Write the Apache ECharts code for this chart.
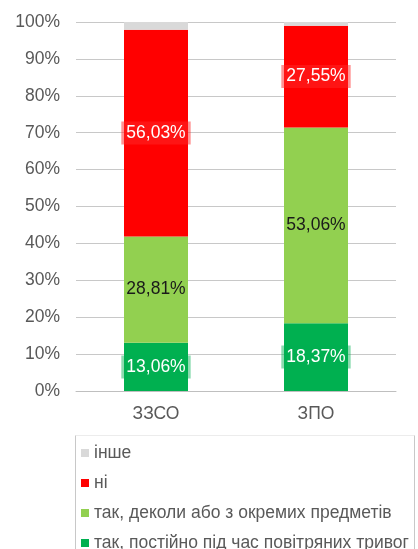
<!DOCTYPE html>
<html>
<head>
<meta charset="utf-8">
<script src="https://cdn.jsdelivr.net/npm/echarts@6/dist/echarts.min.js"></script>
<style>
  html, body { margin: 0; padding: 0; background: #fff; overflow: hidden; }
  #chart { width: 418px; height: 549px; }
</style>
</head>
<body>
<div id="chart"></div>
<script>
var categories = ['ЗЗСО', 'ЗПО'];
var constantly = [13.06, 18.37];
var sometimes = [28.81, 53.06];
var no = [56.03, 27.55];
var other = [2.10, 1.02];
var yTicks = [0, 10, 20, 30, 40, 50, 60, 70, 80, 90, 100];

var names = ['так, постійно під час повітряних тривог', 'так, деколи або з окремих предметів', 'ні', 'інше'];
var legendOrder = ['інше', 'ні', 'так, деколи або з окремих предметів', 'так, постійно під час повітряних тривог'];

function fmt(v) {
  return v.toFixed(2).replace('.', ',') + '%';
}

var FONT = 'Liberation Sans';
var myChart = echarts.init(document.getElementById('chart'));

function barSeries(name, data, color, label) {
  return {
    name: name,
    type: 'bar',
    stack: 'total',
    barWidth: '40%',
    data: data,
    itemStyle: { color: color },
    label: label,
    emphasis: { disabled: true }
  };
}

// one legend per row so the list is not wrapped into columns
var legends = legendOrder.map(function (n, i) {
  return {
    data: [n],
    orient: 'vertical',
    left: 81,
    top: 444 + i * 30,
    padding: 0,
    itemWidth: 8,
    itemHeight: 8,
    icon: 'rect',
    selectedMode: false,
    textStyle: { color: '#595959', fontSize: 17.5, fontFamily: FONT }
  };
});

var option = {
  animation: false,
  grid: { left: 76, right: 22, top: 22, bottom: 158 },
  xAxis: {
    type: 'category',
    data: categories,
    axisTick: { show: false },
    axisLine: { lineStyle: { color: '#bfbfbf' } },
    axisLabel: { color: '#595959', fontSize: 17.5, fontFamily: FONT, margin: 14 }
  },
  yAxis: {
    type: 'value',
    min: 0,
    max: 100,
    interval: 10,
    axisLabel: {
      color: '#595959', fontSize: 17.5, fontFamily: FONT, margin: 16,
      formatter: function (v) { return yTicks.indexOf(v) >= 0 ? v + '%' : ''; }
    },
    splitLine: { lineStyle: { color: '#c8c8c8', width: 1 } }
  },
  legend: legends,
  graphic: [
    { type: 'line', shape: { x1: 75.5, y1: 435.5, x2: 414.5, y2: 435.5 }, style: { stroke: '#ececec', lineWidth: 1 }, silent: true },
    { type: 'line', shape: { x1: 75.5, y1: 435.5, x2: 75.5, y2: 560 }, style: { stroke: '#c8c8c8', lineWidth: 1 }, silent: true },
    { type: 'line', shape: { x1: 414.5, y1: 435.5, x2: 414.5, y2: 560 }, style: { stroke: '#c8c8c8', lineWidth: 1 }, silent: true }
  ],
  series: [
    barSeries(names[0], constantly, '#00b050', {
      show: true, position: 'inside', color: '#fff', fontSize: 17.5, fontFamily: FONT,
      backgroundColor: 'rgba(0,176,80,0.45)', padding: [3, 5, 2, 5],
      formatter: function (p) { return fmt(p.value); }
    }),
    barSeries(names[1], sometimes, '#92d050', {
      show: true, position: 'inside', color: '#1a1a1a', fontSize: 17.5, fontFamily: FONT,
      formatter: function (p) { return fmt(p.value); }
    }),
    barSeries(names[2], no, '#ff0000', {
      show: true, position: 'inside', color: '#fff', fontSize: 17.5, fontFamily: FONT,
      backgroundColor: 'rgba(255,40,40,0.5)', padding: [3, 5, 2, 5],
      formatter: function (p) { return fmt(p.value); }
    }),
    barSeries(names[3], other, '#d9d9d9', { show: false })
  ]
};

myChart.setOption(option, true);
</script>
</body>
</html>
